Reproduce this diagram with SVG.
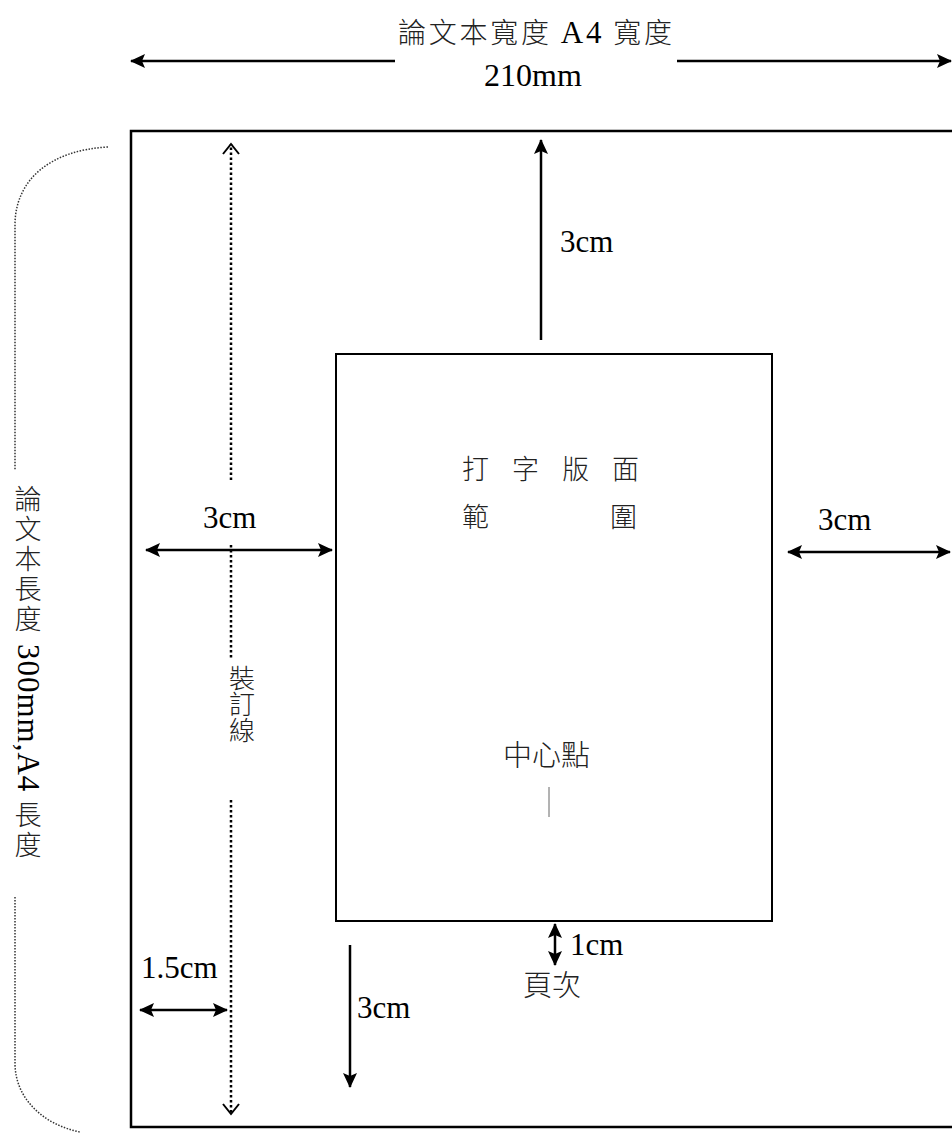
<svg xmlns="http://www.w3.org/2000/svg" width="952" height="1133" viewBox="0 0 952 1133">
<style>
.t{font-family:"Liberation Serif","Noto Sans CJK TC",serif;fill:#000}
.c{font-family:"Noto Sans CJK TC","Liberation Serif",sans-serif;fill:#222;font-weight:300}
.s{font-family:"Liberation Serif",serif;font-weight:normal;fill:#000}
.ar{stroke:#000;stroke-width:2.5;fill:none}
.dot{stroke:#000;stroke-width:2.5;stroke-dasharray:2.5 2.5;fill:none}
.brace{stroke:#333;stroke-width:1.5;stroke-dasharray:1.5 1.5;fill:none}
</style>
<defs>
<marker id="ah" markerUnits="userSpaceOnUse" markerWidth="16" markerHeight="14" refX="14" refY="7" orient="auto-start-reverse">
<path d="M0,0 L15,7 L0,14 L3,7 z" fill="#000"/>
</marker>
<marker id="ch" markerUnits="userSpaceOnUse" markerWidth="18" markerHeight="20" refX="13" refY="10" orient="auto-start-reverse">
<path d="M3,2 L13,10 L3,18" fill="none" stroke="#000" stroke-width="2"/>
</marker>
</defs>
<rect x="0" y="0" width="952" height="1133" fill="#fff"/>
<g id="page">
<path d="M960,131 L131,131 L131,1127 L960,1127" fill="none" stroke="#000" stroke-width="2.5"/>
</g>
<g id="textarea">
<rect x="336" y="354" width="436" height="567" fill="none" stroke="#000" stroke-width="2"/>
<text class="c" font-size="27" x="462 512 562 612" y="479">打字版面</text>
<text class="c" font-size="27" x="462 610" y="527">範圍</text>
</g>
<g id="center">
<text class="c" font-size="29" x="503" y="766">中心點</text>
<line x1="549" y1="787" x2="549" y2="817" stroke="#666" stroke-width="1"/>
</g>
<g id="width-label">
<text class="c" font-size="28" x="398" y="43" textLength="274" lengthAdjust="spacing">論文本寬度 <tspan class="s" font-size="31">A4</tspan> 寬度</text>
<text class="t" font-size="32" x="484" y="86">210mm</text>
</g>
<g id="length-label">
<text class="c" font-size="27" x="28" y="485" style="writing-mode:vertical-rl" letter-spacing="3">論文本長度 <tspan class="s" font-size="31" letter-spacing="1">300mm,A4</tspan> 長度</text>
</g>
<g id="binding-label">
<text class="c" font-size="26" x="242" y="665" style="writing-mode:vertical-rl">裝訂線</text>
</g>
<g id="labels">
<text class="t" font-size="31" x="560" y="252">3cm</text>
<text class="t" font-size="31" x="203" y="528">3cm</text>
<text class="t" font-size="31" x="818" y="530">3cm</text>
<text class="t" font-size="31" x="570" y="955">1cm</text>
<text class="t" font-size="31" x="141" y="978">1.5cm</text>
<text class="t" font-size="31" x="357" y="1018">3cm</text>
<text class="c" font-size="29" x="523" y="996">頁次</text>
</g>
<g id="connectors">
<line class="ar" x1="395" y1="61" x2="131" y2="61" marker-end="url(#ah)"/>
<line class="ar" x1="677" y1="61" x2="951" y2="61" marker-end="url(#ah)"/>
<line class="ar" x1="541" y1="340" x2="541" y2="140" marker-end="url(#ah)"/>
<line class="ar" x1="146" y1="550" x2="332" y2="550" marker-start="url(#ah)" marker-end="url(#ah)"/>
<line class="ar" x1="788" y1="552" x2="950" y2="552" marker-start="url(#ah)" marker-end="url(#ah)"/>
<line class="ar" x1="555" y1="924" x2="555" y2="965" marker-start="url(#ah)" marker-end="url(#ah)"/>
<line class="ar" x1="140" y1="1010" x2="227" y2="1010" marker-start="url(#ah)" marker-end="url(#ah)"/>
<line class="ar" x1="350" y1="945" x2="350" y2="1087" marker-end="url(#ah)"/>
<line class="dot" x1="231" y1="480" x2="231" y2="144" marker-end="url(#ch)"/>
<line class="dot" x1="231" y1="545" x2="231" y2="658"/>
<line class="dot" x1="231" y1="800" x2="231" y2="1114" marker-end="url(#ch)"/>
<path class="brace" d="M108,147 C50,150 15,180 15,225 L15,470"/>
<path class="brace" d="M15,897 L15,1063 C15,1100 45,1125 80,1132"/>
</g>
</svg>
